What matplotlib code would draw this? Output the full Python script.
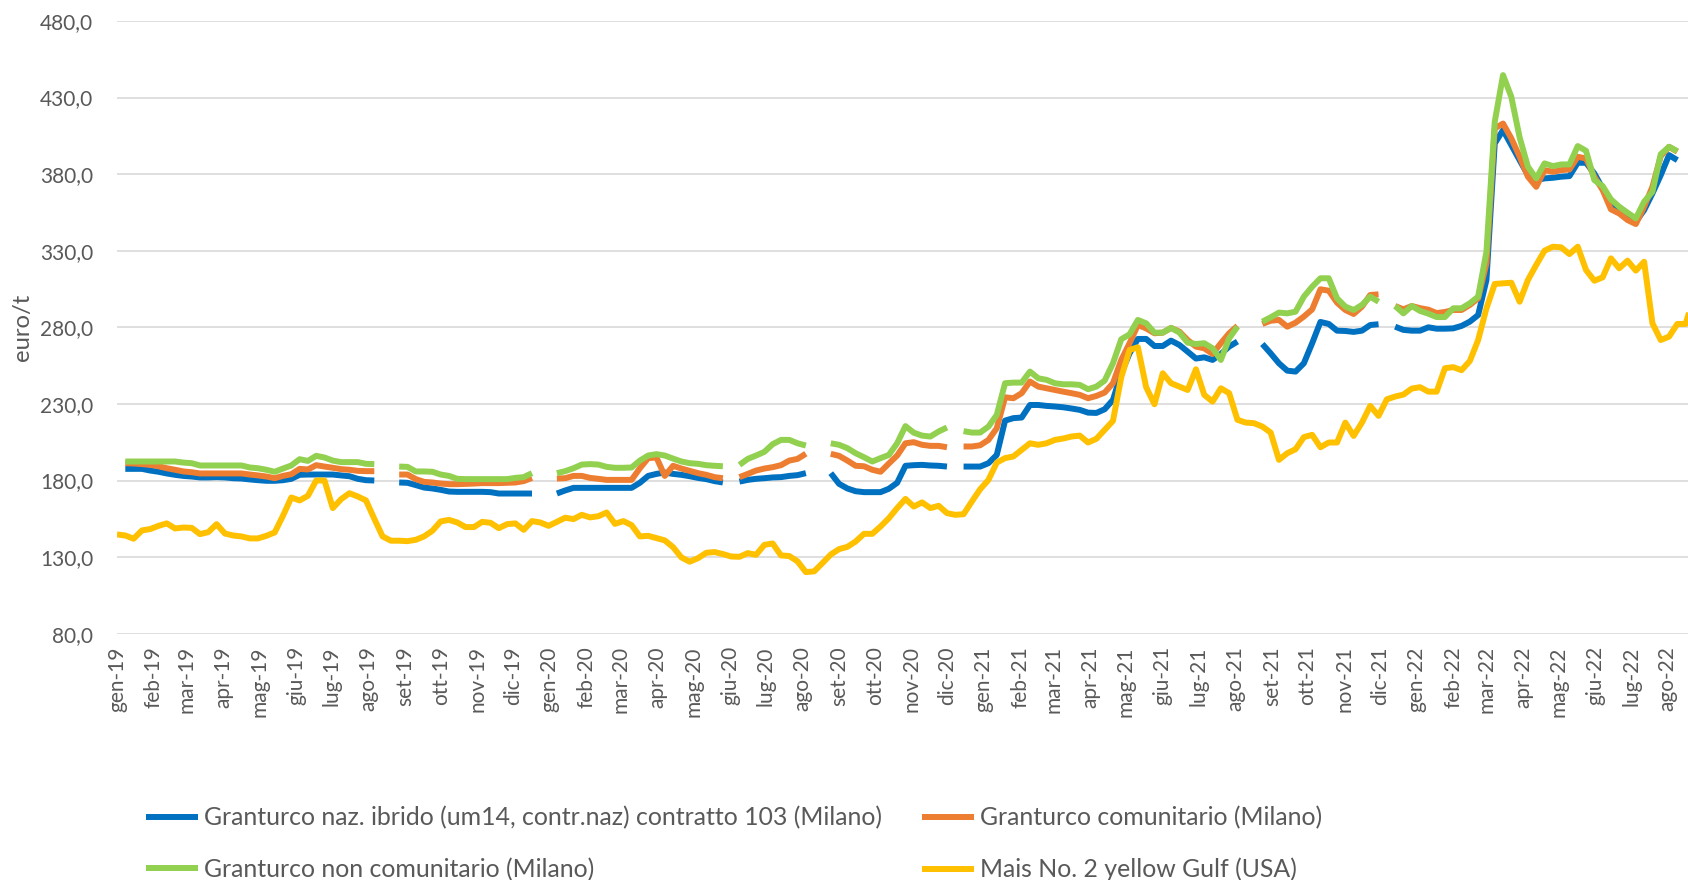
import numpy as np
import pandas as pd
import matplotlib
matplotlib.use("Agg")
import matplotlib.pyplot as plt

N = None
# weekly observations starting 2019-01-01
start_date = "2019-01-01"

mais_usa = [144.8, 144.1, 142.0, 147.4, 148.3, 150.4, 152.0, 148.7, 149.3, 149.1,
            145.0, 146.3, 151.5, 145.4, 144.1, 143.5, 142.2, 142.2, 143.9, 146.1,
            157.0, 168.9, 167.0, 170.0, 180.0, 180.0, 162.0, 167.8, 171.7, 169.6,
            167.0, 155.0, 143.5, 140.7, 140.7, 140.4, 141.3, 143.5, 147.2, 153.3,
            154.3, 152.6, 149.6, 149.6, 153.0, 152.4, 148.9, 151.5, 152.0, 147.8,
            153.5, 152.6, 150.4, 153.0, 155.7, 154.8, 157.6, 155.9, 156.7, 159.1,
            151.7, 153.5, 150.9, 143.5, 143.9, 142.4, 140.9, 136.5, 129.8, 127.0,
            129.3, 132.8, 133.3, 132.0, 130.4, 130.2, 132.6, 131.5, 138.0, 138.9,
            131.1, 130.7, 127.2, 120.2, 120.7, 126.1, 131.7, 135.2, 136.7, 140.2,
            145.2, 145.2, 150.0, 155.4, 162.0, 168.0, 163.0, 165.7, 162.0, 163.5,
            158.7, 157.6, 158.0, 166.3, 174.3, 180.4, 191.7, 194.6, 195.7, 200.0,
            204.3, 203.3, 204.3, 206.5, 207.4, 208.7, 209.3, 204.8, 207.2, 213.0,
            218.9, 247.4, 265.2, 267.0, 240.9, 229.8, 250.0, 243.5, 241.3, 239.1,
            252.6, 235.9, 231.5, 240.2, 237.0, 219.6, 217.8, 217.4, 215.2, 211.3,
            193.5, 197.8, 200.4, 208.3, 209.8, 201.7, 204.8, 204.8, 217.8, 209.1,
            217.8, 228.7, 222.2, 233.0, 234.8, 236.1, 240.0, 240.9, 238.0, 238.0,
            253.3, 254.0, 252.0, 258.0, 271.7, 292.4, 308.3, 308.7, 309.1, 296.7,
            310.9, 320.7, 330.0, 332.6, 332.2, 327.8, 332.6, 317.4, 310.4, 312.6,
            325.0, 318.5, 323.5, 317.0, 322.8, 282.6, 271.7, 273.9, 282.2, 282.2,
            300.0]

naz_ibrido = [N, 187.6, 187.6, 187.6, 186.5, 185.7, 184.6, 183.7, 183.0, 182.6,
              182.0, 182.0, 182.2, 182.0, 181.5, 181.3, 180.7, 180.2, 179.8, 179.8,
              180.2, 181.1, 183.7, 183.9, 183.9, 183.9, 183.9, 183.3, 182.8, 181.1,
              180.2, 180.0, N, N, 178.7, 178.5, 177.0, 175.4, 174.8, 173.9,
              172.8, 172.6, 172.6, 172.6, 172.6, 172.4, 171.5, 171.5, 171.5, 171.5,
              171.5, N, N, 171.5, 173.5, 175.2, 175.2, 175.2, 175.2, 175.2,
              175.2, 175.2, 175.2, 178.5, 183.0, 184.3, 185.2, 184.3, 183.7, 182.8,
              181.7, 180.9, 179.6, 178.7, N, 179.3, 180.4, 181.1, 181.5, 182.0,
              182.2, 183.0, 183.5, 184.8, N, N, 184.8, 177.8, 174.8, 173.0,
              172.4, 172.4, 172.4, 174.6, 178.5, 189.6, 190.0, 190.2, 189.8, 189.6,
              189.1, N, 189.1, 189.1, 189.1, 191.3, 196.7, 219.1, 220.7, 221.1,
              229.3, 229.3, 228.7, 228.3, 227.8, 227.0, 226.1, 224.3, 224.1, 226.5,
              232.6, 250.0, 263.0, 272.4, 272.4, 267.8, 267.8, 271.3, 268.5, 264.1,
              259.6, 260.4, 258.7, 262.6, 267.4, 270.7, N, N, 269.1, 263.0,
              256.5, 251.7, 251.1, 256.5, 269.6, 283.5, 282.2, 277.8, 277.6, 277.0,
              277.8, 281.5, 282.0, N, 280.4, 278.3, 277.8, 277.8, 280.0, 279.1,
              279.1, 279.3, 280.9, 283.7, 288.0, 310.9, 400.0, 408.7, 398.9, 389.1,
              379.3, 376.1, 377.2, 377.6, 378.3, 378.7, 387.4, 387.4, 380.4, 370.7,
              359.8, 356.5, 352.2, 348.9, 356.5, 367.4, 379.3, 392.4, 389.1, N,
              N]

comunitario = [N, 191.3, 191.1, 190.7, 190.2, 189.3, 188.0, 187.0, 185.9, 185.4,
               184.6, 184.6, 184.6, 184.6, 184.6, 184.6, 183.9, 183.3, 182.6, 181.5,
               183.0, 184.1, 187.6, 187.2, 190.0, 189.1, 188.3, 187.4, 187.0, 186.3,
               186.1, 186.1, N, N, 183.9, 183.9, 180.9, 179.1, 178.7, 178.0,
               177.6, 177.6, 177.8, 178.0, 178.3, 178.3, 178.3, 178.5, 178.7, 179.6,
               181.7, N, N, 181.3, 181.5, 183.0, 183.0, 181.7, 181.1, 180.4,
               180.4, 180.4, 180.4, 188.0, 194.6, 195.0, 183.0, 189.6, 187.8, 186.3,
               184.8, 183.7, 182.2, 181.5, N, 182.2, 184.3, 186.5, 187.8, 188.7,
               190.0, 193.0, 194.1, 197.5, N, N, 197.4, 196.1, 193.0, 189.6,
               189.3, 187.0, 185.7, 191.1, 196.3, 204.3, 205.0, 203.3, 202.6, 202.6,
               201.7, N, 202.2, 202.2, 203.0, 206.5, 214.1, 234.3, 233.7, 237.0,
               244.6, 241.3, 240.2, 239.1, 238.0, 237.0, 235.9, 233.7, 235.2, 237.4,
               243.5, 258.7, 269.6, 281.5, 279.3, 276.1, 276.5, 279.6, 277.2, 271.7,
               267.4, 266.3, 262.6, 269.6, 276.1, 280.9, N, N, 282.2, 284.3,
               284.8, 280.4, 283.0, 287.0, 291.7, 304.8, 303.9, 296.1, 291.3, 288.7,
               293.5, 301.1, 301.5, N, 293.9, 291.7, 293.9, 292.5, 291.5, 289.3,
               290.0, 291.3, 291.3, 294.6, 298.9, 321.7, 409.8, 413.0, 403.3, 391.3,
               378.3, 371.7, 382.6, 381.5, 382.6, 383.0, 391.3, 390.2, 378.3, 369.6,
               357.0, 354.3, 350.0, 347.4, 358.7, 371.7, 391.7, 397.8, 394.6, N,
               N]

non_comunitario = [N, 192.4, 192.4, 192.4, 192.4, 192.4, 192.4, 192.4, 191.7, 191.3,
                   189.8, 189.8, 189.8, 189.8, 189.8, 189.8, 188.5, 188.0, 187.0, 185.7,
                   187.8, 189.8, 193.9, 192.8, 196.1, 195.0, 193.0, 192.0, 192.0, 192.0,
                   190.9, 190.7, N, N, 189.1, 188.9, 185.9, 185.9, 185.7, 183.9,
                   183.0, 181.1, 180.9, 180.9, 180.9, 180.9, 180.9, 180.9, 181.7, 182.2,
                   184.8, N, N, 184.8, 186.1, 188.0, 190.4, 190.7, 190.4, 188.9,
                   188.3, 188.3, 188.5, 193.0, 196.3, 197.2, 196.3, 194.3, 192.4, 191.3,
                   190.9, 190.0, 189.6, 189.3, N, 190.2, 194.1, 196.3, 198.7, 203.7,
                   206.5, 206.5, 204.3, 202.8, N, N, 204.3, 203.3, 201.1, 197.8,
                   195.2, 192.4, 194.6, 196.7, 204.3, 215.5, 211.2, 209.3, 208.7, 212.0,
                   214.6, N, 212.2, 211.3, 211.3, 215.2, 222.8, 243.5, 243.9, 243.9,
                   251.1, 246.7, 245.7, 243.5, 242.8, 242.8, 242.4, 239.6, 241.3, 245.2,
                   256.5, 272.2, 275.4, 284.8, 282.6, 276.5, 276.5, 279.6, 276.6, 270.0,
                   269.1, 269.6, 266.3, 258.7, 272.8, 280.4, N, N, 283.7, 286.5,
                   289.6, 289.1, 290.2, 300.0, 306.5, 312.0, 312.0, 298.9, 293.5, 291.3,
                   294.6, 300.0, 296.7, N, 293.9, 289.1, 293.9, 290.7, 288.9, 286.7,
                   286.7, 292.4, 292.4, 295.7, 300.0, 329.3, 414.1, 444.6, 430.4, 403.9,
                   384.8, 377.2, 387.0, 385.2, 386.3, 386.3, 398.3, 395.2, 376.1, 372.2,
                   363.5, 358.7, 354.8, 351.1, 362.0, 368.5, 393.0, 397.8, 395.0, N,
                   N]

labels = ["Granturco naz. ibrido (um14, contr.naz) contratto 103 (Milano)",
          "Granturco comunitario (Milano)",
          "Granturco non comunitario (Milano)",
          "Mais No. 2 yellow Gulf (USA)"]
colors = ["#0070C0", "#ED7D31", "#92D050", "#FFC000"]
mesi = ["gen", "feb", "mar", "apr", "mag", "giu", "lug", "ago", "set", "ott", "nov", "dic"]
y_ticks = [80, 130, 180, 230, 280, 330, 380, 430, 480]

def arr(v):
    return np.array([np.nan if x is None else x for x in v], dtype=float)

series = [arr(naz_ibrido), arr(comunitario), arr(non_comunitario), arr(mais_usa)]
dates = pd.date_range(start_date, periods=len(mais_usa), freq="7D")

W, H = 1688, 880
fig = plt.figure(figsize=(W / 100, H / 100), dpi=100)
FAM = ["Lato", "DejaVu Sans"]
plt.rcParams["font.family"] = FAM

ax = fig.add_axes([117 / W, 1 - 633.7 / H, (W - 117) / W, (633.7 - 20.9) / H])

renderer = fig.canvas.get_renderer()
def fit(text, target_px):
    t = fig.text(0, 0, text, fontsize=10)
    w = t.get_window_extent(renderer=renderer).width
    t.remove()
    return 10 * target_px / w

fs_tick = fit("480,0", 53)
fs_leg = fit(labels[0], 680)
fs_ylab = fit("euro/t", 68)

handles = []
for s, c, lab in zip(series, colors, labels):
    h, = ax.plot(dates, s, color=c, lw=4.3, solid_capstyle="butt",
                 solid_joinstyle="round", label=lab, zorder=3)
    handles.append(h)

ax.set_ylim(80, 480)
ax.set_yticks(y_ticks)
ax.set_yticklabels([f"{v:.1f}".replace(".", ",") for v in y_ticks])
x0 = pd.Timestamp(start_date)
ax.set_xlim(x0, x0 + pd.Timedelta(days=1325))
month_ticks = pd.date_range(start_date, "2022-08-01", freq="MS")
ax.set_xticks(month_ticks)
ax.set_xticklabels([f"{mesi[d.month - 1]}-{d.year % 100:02d}" for d in month_ticks],
                   rotation=90)
for sp in ax.spines.values():
    sp.set_visible(False)
ax.grid(axis="y", color="#D9D9D9", lw=1.2, zorder=0)
ax.tick_params(axis="both", length=0, colors="#595959", labelsize=fs_tick)
ax.tick_params(axis="y", pad=17)
ax.tick_params(axis="x", pad=9)
ax.set_ylabel("euro/t", fontsize=fs_ylab, color="#595959", va="center")
ax.yaxis.set_label_coords((23 - 117) / (W - 117), 0.5)

order = [0, 2, 1, 3]
leg = fig.legend([handles[i] for i in order], [labels[i] for i in order],
                 ncol=2, loc="upper left", bbox_to_anchor=(146 / W, 1 - 806 / H),
                 frameon=False, fontsize=fs_leg, handlelength=2.1,
                 handletextpad=0.25, columnspacing=1.6, labelspacing=1.15,
                 borderpad=0, borderaxespad=0)
for t in leg.get_texts():
    t.set_color("#595959")

fig.savefig("out.png", dpi=100)
